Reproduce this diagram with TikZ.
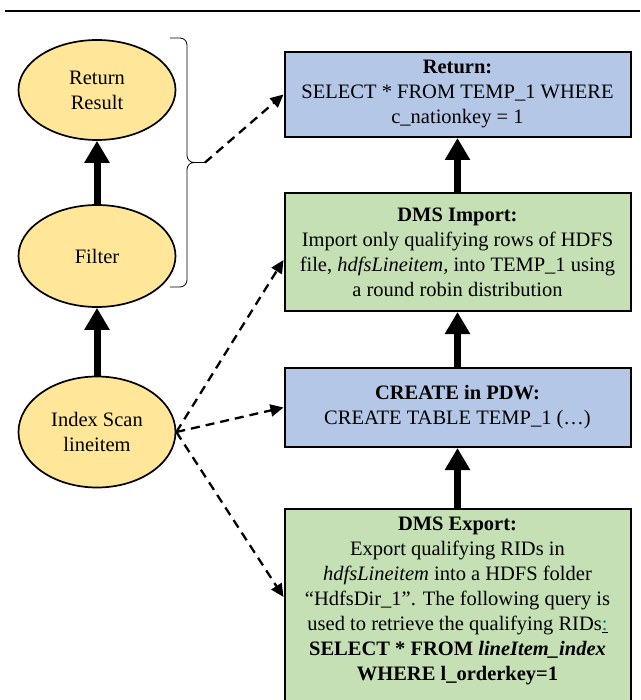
\documentclass[tikz,border=0pt]{standalone}
\usepackage{fontspec}
\setmainfont{Liberation Serif}
\usetikzlibrary{shapes.geometric,arrows.meta}
\definecolor{opfill}{HTML}{FFE699}
\definecolor{pdwfill}{HTML}{B4C7E7}
\definecolor{dmsfill}{HTML}{C5E0B4}
\begin{document}
\begin{tikzpicture}[x=1pt,y=-1pt,
  font=\fontsize{20.5}{25}\selectfont,
  op/.style={ellipse, draw, line width=1.7pt, fill=opfill, minimum width=157pt, inner sep=0pt, align=center},
  stepbox/.style={draw, line width=2pt, inner sep=0pt, minimum width=346pt, align=center},
  flow/.style={line width=7pt, -{Triangle[length=22pt,width=24pt]}},
  link/.style={line width=2.3pt, dash pattern=on 9pt off 6pt, -{Triangle[length=13pt,width=12pt]}}]
\useasboundingbox (0,0) rectangle (640,700);
\clip (0,0) rectangle (640,700);
\draw[line width=2.5pt] (5,11) -- (640,11);
\node[op, minimum height=100pt] (ret) at (97,90){Return\\Result};
\node[op, minimum height=102pt] (filt) at (97,256){Filter};
\node[op, minimum height=111pt] (scan) at (97,432){Index Scan\\lineitem};
\draw[flow] (filt) -- (ret);
\draw[flow] (scan) -- (filt);
\draw[line width=0.8pt, rounded corners=7pt] (170,38) -- (187,38) -- (187,162.5) -- (205,162.5) coordinate (brtip)
  (205,162.5) -- (187,162.5) -- (187,287) -- (170,287);
\node[stepbox, fill=pdwfill, minimum height=85pt] (retq) at (457.5,94.5){\textbf{Return:}\\SELECT * FROM TEMP\_1 WHERE\\c\_nationkey = 1};
\node[stepbox, fill=dmsfill, minimum height=118pt] (dmsimp) at (457.5,252){\textbf{DMS Import:}\\Import only qualifying rows of HDFS\\file, \textit{hdfsLineitem,} into TEMP\_1 using\\a round robin distribution};
\node[stepbox, fill=pdwfill, minimum height=79pt] (create) at (457.5,407.5){\textbf{CREATE in PDW:}\\CREATE TABLE TEMP\_1 (…)};
\node[stepbox, fill=dmsfill, inner sep=8pt, anchor=north] (dmsexp) at (457.5,508){\parbox[t][215pt][t]{330pt}{\centering
  \textbf{DMS Export:}\\Export qualifying RIDs in\\\textit{hdfsLineitem} into a HDFS folder\\“HdfsDir\_1”. The following query is\\used to retrieve the qualifying RIDs\underline{\textcolor{teal}{:}}\\\textbf{SELECT * FROM \textit{lineItem\_index}}\\\textbf{WHERE l\_orderkey=1}}};
\draw[flow] (dmsimp) -- (retq);
\draw[flow] (create) -- (dmsimp);
\draw[flow] (dmsexp) -- (create);
\draw[link] (brtip) -- (retq.west);
\draw[link] (scan.east) -- ([yshift=-8pt]dmsimp.west);
\draw[link] (scan.east) -- (create.west);
\draw[link] (scan.east) -- ([yshift=-89pt]dmsexp.north west);
\end{tikzpicture}
\end{document}
